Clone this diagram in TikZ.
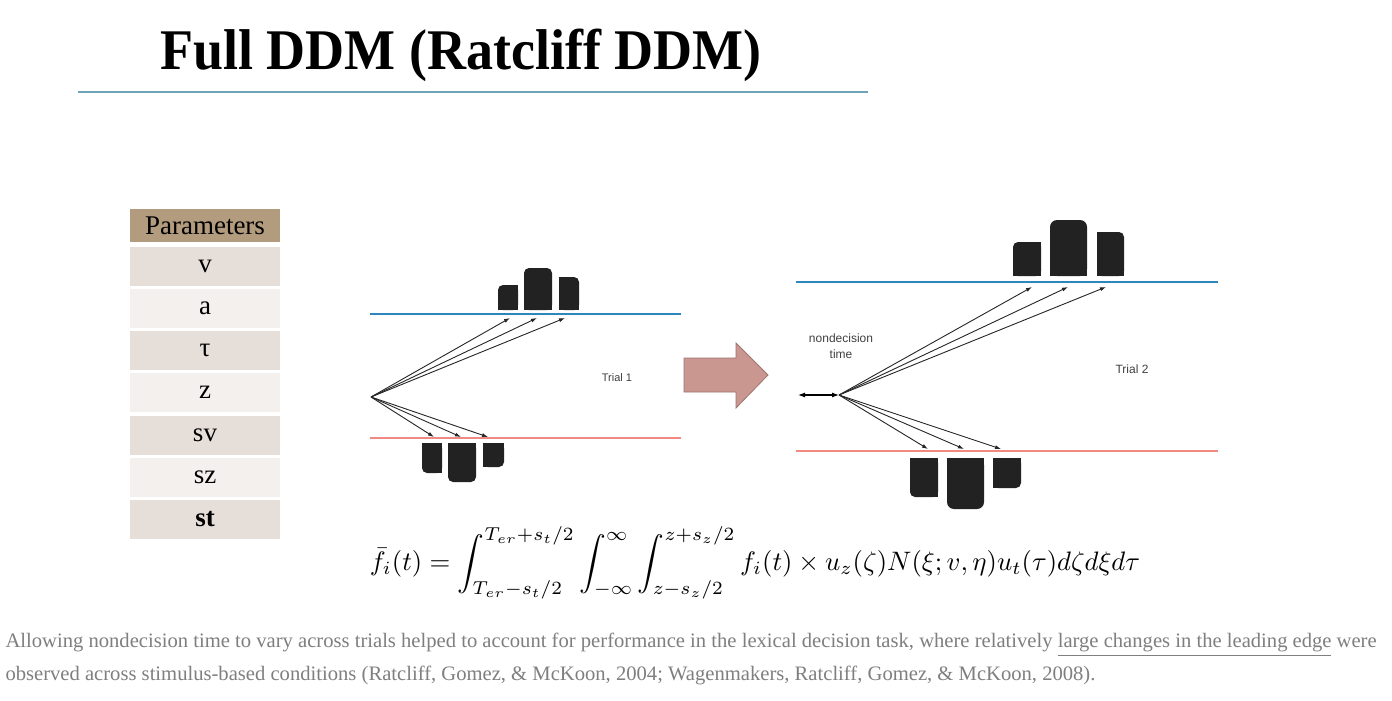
\documentclass[tikz,border=0pt]{standalone}
\usepackage{amsmath}
\usepackage{amssymb}
\usepackage{fontspec}
\setmainfont{Liberation Serif}
\setsansfont{Liberation Sans}
\usetikzlibrary{arrows.meta}

\definecolor{titleline}{HTML}{6FA3B8}
\definecolor{upper}{HTML}{2E86C1}
\definecolor{lower}{HTML}{F08A80}
\definecolor{headfill}{HTML}{B39B7E}
\definecolor{rowdark}{HTML}{E6DED9}
\definecolor{rowlight}{HTML}{F4F0EE}
\definecolor{bigarrow}{HTML}{C99690}
\definecolor{bigedge}{HTML}{9E7670}
\definecolor{bar}{HTML}{222222}
\definecolor{note}{HTML}{7F7F7F}

\begin{document}
\begin{tikzpicture}[x = 1pt, y = -1pt, line width = 1pt,
                    bound/.style = {line width = 1.6pt},
                    path/.style = {line width = 0.9pt, draw = black!85, -{Latex[length = 6pt, width = 4pt]}},
                    round/.style = {fill = bar, rounded corners = 5pt},
                    row/.style = {minimum width = 150pt, minimum height = 39pt, inner sep = 0pt,
                                  font = \fontsize{27}{27}\selectfont},
                    small/.style = {font = \sffamily\fontsize{11}{12}\selectfont, text = black!75, align = center},
                    textline/.style = {anchor = west, inner sep = 0pt, text = note,
                                       font = \fontsize{19}{19}\selectfont}]
      \useasboundingbox (0, 0) rectangle (1392, 701);
      \fill [white] (0, 0) rectangle (1392, 701);

      % title
      \node (title) at (461, 55) {\scalebox{1.08}[1.15]{\fontsize{50}{50}\selectfont\bfseries Full DDM (Ratcliff DDM)}};
      \draw [titleline, line width = 1.4pt] (78, 92) -- (868, 92);

      % parameter table
      \node [row, fill = headfill, minimum height = 33pt] (head) at (205, 225.5) {Parameters};
      \node [row, fill = rowdark] (pv) at (205, 266) {v};
      \node [row, fill = rowlight] (pa) at (205, 308) {a};
      \node [row, fill = rowdark] (ptau) at (205, 350) {τ};
      \node [row, fill = rowlight] (pz) at (205, 392) {z};
      \node [row, fill = rowdark] (psv) at (205, 435) {sv};
      \node [row, fill = rowlight] (psz) at (205, 477) {sz};
      \node [row, fill = rowdark] (pst) at (205, 519) {\bfseries st};

      % trial 1
      \draw [bound, upper] (370, 314) -- (681, 314);
      \draw [bound, lower] (370, 438) -- (681, 438);
      \coordinate (s1) at (371, 397);
      \coordinate (u1) at (510, 318);
      \coordinate (u2) at (537, 318);
      \coordinate (u3) at (565, 318);
      \coordinate (d1) at (434, 437);
      \coordinate (d2) at (461, 437);
      \coordinate (d3) at (488, 437);
      \draw [path] (s1) -- (u1);
      \draw [path] (s1) -- (u2);
      \draw [path] (s1) -- (u3);
      \draw [path] (s1) -- (d1);
      \draw [path] (s1) -- (d2);
      \draw [path] (s1) -- (d3);
      % upper bars
      \fill [round] (498, 285) rectangle (518, 310);
      \fill [bar] (508, 285) rectangle (518, 310);
      \fill [bar] (498, 297) rectangle (518, 310);
      \fill [round] (524, 268) rectangle (552, 310);
      \fill [bar] (524, 289) rectangle (552, 310);
      \fill [round] (559, 277) rectangle (579, 310);
      \fill [bar] (559, 277) rectangle (569, 310);
      \fill [bar] (559, 293) rectangle (579, 310);
      % lower bars
      \fill [round] (422, 443) rectangle (442, 473);
      \fill [bar] (432, 443) rectangle (442, 473);
      \fill [bar] (422, 443) rectangle (442, 458);
      \fill [round] (448, 443) rectangle (476, 482);
      \fill [bar] (448, 443) rectangle (476, 462);
      \fill [round] (483, 443) rectangle (504, 467);
      \fill [bar] (483, 443) rectangle (493, 467);
      \fill [bar] (483, 443) rectangle (504, 455);
      \node [small] (trial1) at (617, 378) {Trial 1};

      % big arrow
      \draw [fill = bigarrow, draw = bigedge, line width = 0.8pt]
            (684, 358) -- (736, 358) -- (736, 343) -- (768, 375) -- (736, 408) -- (736, 392) -- (684, 392) -- cycle;

      % trial 2
      \draw [bound, upper] (796, 282) -- (1218, 282);
      \draw [bound, lower] (796, 451) -- (1218, 451);
      \coordinate (s2) at (839, 395);
      \coordinate (t0) at (798, 395);
      \coordinate (v1) at (1032, 287);
      \coordinate (v2) at (1068, 287);
      \coordinate (v3) at (1106, 287);
      \coordinate (e1) at (928, 449);
      \coordinate (e2) at (964, 449);
      \coordinate (e3) at (1001, 449);
      \draw [line width = 1.1pt, {Latex[length = 7pt, width = 5pt]}-{Latex[length = 7pt, width = 5pt]}] (t0) -- (s2);
      \draw [path] (s2) -- (v1);
      \draw [path] (s2) -- (v2);
      \draw [path] (s2) -- (v3);
      \draw [path] (s2) -- (e1);
      \draw [path] (s2) -- (e2);
      \draw [path] (s2) -- (e3);
      % upper bars
      \fill [round] (1013, 242) rectangle (1041, 276);
      \fill [bar] (1027, 242) rectangle (1041, 276);
      \fill [bar] (1013, 259) rectangle (1041, 276);
      \fill [round, rounded corners = 7pt] (1050, 220) rectangle (1087, 276);
      \fill [bar] (1050, 248) rectangle (1087, 276);
      \fill [round] (1097, 232) rectangle (1124, 276);
      \fill [bar] (1097, 232) rectangle (1110, 276);
      \fill [bar] (1097, 254) rectangle (1124, 276);
      % lower bars
      \fill [round] (910, 458) rectangle (938, 497);
      \fill [bar] (924, 458) rectangle (938, 497);
      \fill [bar] (910, 458) rectangle (938, 477);
      \fill [round, rounded corners = 7pt] (947, 458) rectangle (984, 509);
      \fill [bar] (947, 458) rectangle (984, 483);
      \fill [round] (993, 458) rectangle (1021, 488);
      \fill [bar] (993, 458) rectangle (1007, 488);
      \fill [bar] (993, 458) rectangle (1021, 473);
      \node [small, font = \sffamily\fontsize{12}{16}\selectfont] (ndt) at (841, 346) {nondecision\\time};
      \node [small, font = \sffamily\fontsize{12}{14}\selectfont] (trial2) at (1132, 369) {Trial 2};

      % formula
      \node (formula) at (755, 563) {\resizebox{770pt}{!}{$\displaystyle \bar{f}_i(t) = \int_{T_{er}-s_t/2}^{T_{er}+s_t/2} \int_{-\infty}^{\infty} \int_{z-s_z/2}^{z+s_z/2} f_i(t) \times u_z(\zeta) N(\xi; v, \eta) u_t(\tau) d\zeta d\xi d\tau$}};

      % note
      \node [textline] (line1) at (5, 645) {\scalebox{1.085}[1.08]{Allowing nondecision time to vary across trials helped to account for performance in the lexical decision task, where relatively \underline{large changes in the leading edge} were}};
      \node [textline] (line2) at (5, 675) {\scalebox{1.085}[1.08]{observed across stimulus-based conditions (Ratcliff, Gomez, \& McKoon, 2004; Wagenmakers, Ratcliff, Gomez, \& McKoon, 2008).}};
\end{tikzpicture}
\end{document}
